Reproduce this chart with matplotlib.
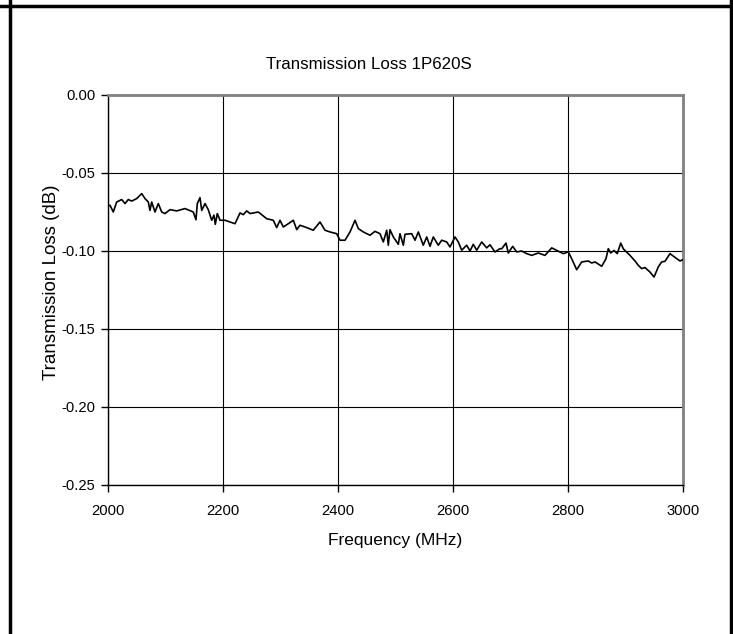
import matplotlib
matplotlib.use("Agg")
import matplotlib.pyplot as plt
from matplotlib.lines import Line2D

plt.rcParams['font.family'] = ['Liberation Sans', 'DejaVu Sans']

freq = [2000.0, 2003.5, 2009.2, 2015.1, 2023.8, 2029.6, 2035.3, 2041.2, 2049.9, 2058.6,
        2064.3, 2070.1, 2073.0, 2076.0, 2081.7, 2087.5, 2093.4, 2099.1, 2107.8, 2119.5,
        2133.9, 2148.3, 2153.0, 2155.3, 2160.0, 2163.0, 2168.7, 2174.4, 2180.3, 2184.3,
        2186.6, 2190.1, 2194.8, 2203.5, 2212.2, 2220.9, 2229.6, 2235.3, 2241.2, 2247.0,
        2261.4, 2276.0, 2287.5, 2293.4, 2299.1, 2304.9, 2313.6, 2322.3, 2328.2, 2333.9,
        2345.6, 2357.0, 2368.7, 2377.4, 2386.1, 2397.7, 2403.5, 2412.2, 2420.9, 2429.6,
        2435.3, 2444.0, 2455.7, 2464.3, 2473.0, 2478.8, 2484.7, 2487.5, 2490.4, 2496.2,
        2504.9, 2507.8, 2513.6, 2516.5, 2528.2, 2533.9, 2539.7, 2548.3, 2554.3, 2560.0,
        2565.7, 2574.4, 2580.3, 2589.0, 2594.8, 2603.5, 2609.2, 2615.1, 2623.8, 2629.6,
        2635.3, 2641.2, 2649.9, 2658.6, 2664.3, 2673.0, 2681.7, 2684.7, 2692.2, 2696.2,
        2703.8, 2710.8, 2719.5, 2728.2, 2736.9, 2748.3, 2760.0, 2771.7, 2780.3, 2791.8,
        2800.5, 2806.4, 2815.1, 2823.8, 2835.3, 2841.2, 2847.0, 2858.6, 2866.1, 2870.1,
        2874.3, 2880.0, 2885.7, 2891.7, 2896.2, 2907.8, 2916.5, 2922.3, 2928.2, 2933.9,
        2942.6, 2949.6, 2957.0, 2962.9, 2968.7, 2977.4, 2986.1, 2994.8, 3000.0]

loss = [-0.0710, -0.0707, -0.0750, -0.0686, -0.0670, -0.0696, -0.0670, -0.0680, -0.0664, -0.0632,
        -0.0664, -0.0686, -0.0740, -0.0686, -0.0750, -0.0696, -0.0750, -0.0760, -0.0735, -0.0743,
        -0.0728, -0.0750, -0.0800, -0.0696, -0.0658, -0.0740, -0.0696, -0.0735, -0.0803, -0.0770,
        -0.0829, -0.0760, -0.0803, -0.0803, -0.0814, -0.0825, -0.0756, -0.0767, -0.0743, -0.0760,
        -0.0750, -0.0793, -0.0803, -0.0850, -0.0803, -0.0846, -0.0825, -0.0803, -0.0863, -0.0835,
        -0.0850, -0.0867, -0.0814, -0.0867, -0.0878, -0.0889, -0.0931, -0.0931, -0.0878, -0.0803,
        -0.0856, -0.0878, -0.0899, -0.0874, -0.0889, -0.0942, -0.0867, -0.0963, -0.0863, -0.0910,
        -0.0957, -0.0889, -0.0963, -0.0893, -0.0889, -0.0931, -0.0878, -0.0963, -0.0910, -0.0970,
        -0.0910, -0.0963, -0.0931, -0.0942, -0.0974, -0.0910, -0.0942, -0.0995, -0.0963, -0.1000,
        -0.0957, -0.0995, -0.0942, -0.0980, -0.0960, -0.1006, -0.0985, -0.0986, -0.0949, -0.1013,
        -0.0970, -0.1006, -0.1000, -0.1017, -0.1028, -0.1013, -0.1028, -0.0980, -0.0996, -0.1017,
        -0.1006, -0.1049, -0.1120, -0.1070, -0.1064, -0.1077, -0.1070, -0.1098, -0.1049, -0.0985,
        -0.1013, -0.0996, -0.1017, -0.0949, -0.0986, -0.1028, -0.1064, -0.1092, -0.1113, -0.1106,
        -0.1135, -0.1167, -0.1102, -0.1070, -0.1066, -0.1017, -0.1041, -0.1064, -0.1055]

xticks = [2000, 2200, 2400, 2600, 2800, 3000]
yticks = [0.00, -0.05, -0.10, -0.15, -0.20, -0.25]
ytick_labels = ["0.00", "-0.05", "-0.10", "-0.15", "-0.20", "-0.25"]

W, H = 733, 634
fig = plt.figure(figsize=(W / 100, H / 100), dpi=100)
ax = fig.add_axes([108 / W, (H - 485) / H, 575 / W, 390 / H])

ax.plot(freq, loss, color='black', linewidth=1.2, zorder=3)

ax.set_xlim(2000, 3000)
ax.set_ylim(-0.25, 0.0)
ax.set_xticks(xticks)
ax.set_xticklabels([str(t) for t in xticks])
ax.set_yticks(yticks)
ax.set_yticklabels(ytick_labels)
ax.grid(True, color='black', linewidth=0.8, zorder=1)
ax.set_axisbelow(True)

for s in ['top', 'right']:
    ax.spines[s].set_color('#808080')
    ax.spines[s].set_linewidth(2)
for s in ['left', 'bottom']:
    ax.spines[s].set_color('black')
    ax.spines[s].set_linewidth(1)

ax.tick_params(axis='both', direction='out', length=5, width=1, labelsize=10.6)
ax.tick_params(axis='x', pad=9)
ax.tick_params(axis='y', pad=4)

ax.set_xlabel("Frequency (MHz)", fontsize=12.5, va='center', ha='center')
ax.xaxis.set_label_coords(0.5, (485 - 541) / 390)
ax.set_ylabel("Transmission Loss (dB)", fontsize=13.5, va='center', ha='center')
ax.yaxis.set_label_coords((51.5 - 108) / 575, (485 - 282.5) / 390)

fig.text((266 + 472) / 2 / W, 1 - 64.5 / H, "Transmission Loss 1P620S", fontsize=12.2,
         ha='center', va='center')

# outer frame
fig.add_artist(Line2D([10 / W, 10 / W], [0, 1], transform=fig.transFigure, color='black', linewidth=2.5))
fig.add_artist(Line2D([731 / W, 731 / W], [0, 1], transform=fig.transFigure, color='black', linewidth=2.5))
fig.add_artist(Line2D([0, 1], [1 - 5.5 / H, 1 - 5.5 / H], transform=fig.transFigure, color='black', linewidth=2.5))

fig.savefig("out.png", dpi=100)
